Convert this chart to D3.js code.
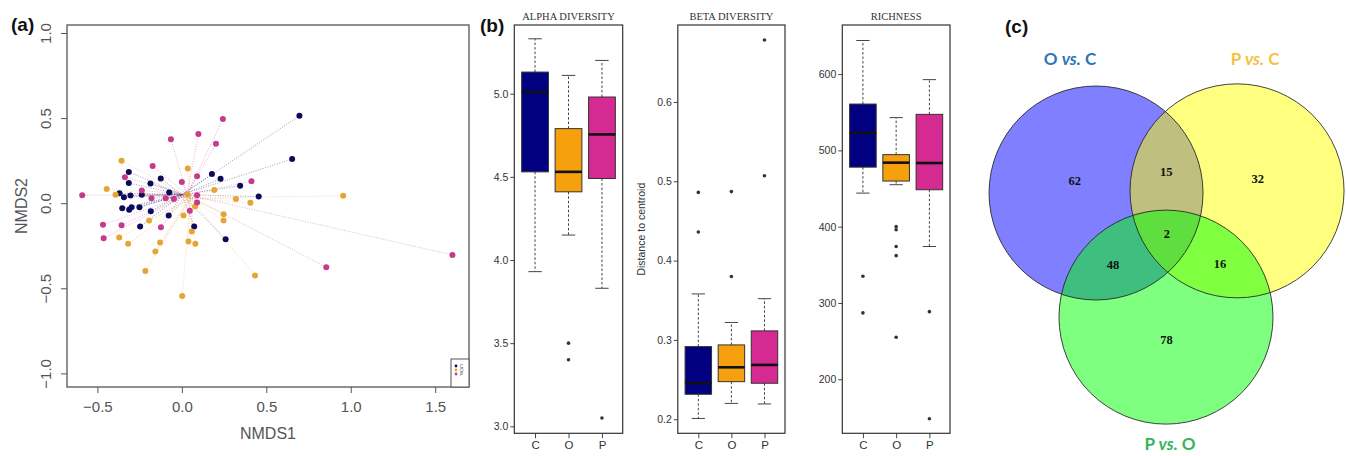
<!DOCTYPE html>
<html>
<head>
<meta charset="utf-8">
<script src="https://cdn.jsdelivr.net/npm/d3@7"></script>
<style>
  body { margin: 0; background: #fff; }
  text { font-family: "Liberation Sans", Arial, sans-serif; }
</style>
</head>
<body>
<script>
// groups shared by (a) and (b)
const groups = ["C", "O", "P"];
const dotColors = ["#0c0a5c", "#e6a532", "#c63a8c"];
const boxColors = ["#000080", "#f5a00c", "#d42a92"];

// (a) NMDS scores per group, [NMDS1, NMDS2]
const nmdsC = [[0.696,0.514],[0.653,0.259],[0.178,0.171],[0.229,0.143],[0.345,0.102],[0.455,0.039],
  [-0.125,0.145],[-0.186,0.116],[-0.075,0.063],[-0.314,0.184],[-0.314,0.118],[-0.369,0.059],
  [-0.343,0.035],[-0.304,0.045],[-0.237,0.049],[-0.353,-0.029],[-0.312,-0.039],[-0.298,-0.024],
  [-0.251,-0.024],[-0.184,-0.047],[-0.247,-0.137],[-0.078,-0.073],[0.073,-0.137],[0.259,-0.212]];
const nmdsO = [[0.955,0.043],[-0.357,0.249],[-0.445,0.084],[-0.392,0.049],[0.035,0.204],[0.192,0.078],
  [0.033,0.049],[0.320,0.025],[0.406,0.002],[0.247,-0.065],[0.247,-0.102],[0.078,-0.020],
  [0.010,-0.073],[0.059,-0.167],[0.039,-0.225],[0.080,-0.239],[-0.194,-0.102],[-0.371,-0.202],
  [-0.318,-0.239],[-0.129,-0.231],[-0.157,-0.284],[-0.216,-0.398],[0.433,-0.425],[0.002,-0.545]];
const nmdsP = [[1.602,-0.304],[0.855,-0.376],[0.243,0.494],[0.098,0.406],[0.202,0.349],[-0.065,0.376],
  [-0.173,0.218],[0.090,0.159],[0.000,0.125],[0.412,0.129],[-0.337,0.153],[-0.590,0.047],
  [-0.237,0.075],[-0.180,0.029],[-0.096,0.029],[-0.047,0.025],[0.090,0.047],[0.090,0.004],
  [0.047,-0.045],[-0.124,-0.141],[-0.357,-0.129],[-0.467,-0.127],[-0.463,-0.206]];
const centroids = [[0.00,0.05],[0.05,0.03],[0.03,0.05]];

// (b) boxplot stats: [lower whisker, Q1, median, Q3, upper whisker]
const alphaBox = [[3.93,4.53,5.01,5.13,5.33],[4.15,4.41,4.53,4.79,5.11],[3.83,4.49,4.755,4.98,5.20]];
const alphaOut = [[],[3.50,3.40],[3.05]];
const betaBox = [[0.201,0.2315,0.2454,0.2916,0.358],[0.220,0.2474,0.2655,0.2937,0.322],[0.2193,0.2454,0.2685,0.3114,0.352]];
const betaOut = [[0.486,0.436],[0.487,0.380],[0.678,0.507]];
const richBox = [[444,478,522.7,560.7,644],[455,459.8,483.9,494.4,542.9],[374,448.4,483.4,547.2,592.7]];
const richOut = [[335,287],[400,396,374,362,255],[288.6,148.2]];

// (c) venn
const vennNames = ["O vs. C", "P vs. C", "P vs. O"];
const vennTitleColors = ["#2e75b6", "#f7c043", "#34b45a"];
const vennFill = ["#0000ff", "#ffff00", "#00ff00"];
const vennCounts = [
  {sets: [0], n: 62}, {sets: [1], n: 32}, {sets: [2], n: 78},
  {sets: [0, 1], n: 15}, {sets: [0, 2], n: 48}, {sets: [1, 2], n: 16},
  {sets: [0, 1, 2], n: 2}
];

const svg = d3.select("body").append("svg")
  .attr("width", 1346)
  .attr("height", 456)
  .style("background", "#fff");

const panelLabel = (txt, x, y) => svg.append("text")
  .text(txt).attr("x", x).attr("y", y)
  .style("font-size", "19px").style("font-weight", "bold").attr("fill", "#111");

// ---------- (a) NMDS ----------
const ax = d3.scaleLinear().domain([-0.68, 1.70]).range([67, 469]);
const ay = d3.scaleLinear().domain([-1.08, 1.047]).range([387, 25]);
const gA = svg.append("g");

gA.append("g")
  .attr("transform", `translate(0,${ay.range()[0]})`)
  .call(d3.axisBottom(ax).tickValues([-0.5, 0, 0.5, 1, 1.5]).tickFormat(d3.format(".1f")).tickSize(6))
  .call(g => g.select(".domain").remove())
  .call(g => g.selectAll("line").attr("stroke", "#555"))
  .call(g => g.selectAll("text").attr("y", 14).style("font-size", "15px").attr("fill", "#555")
    .style("font-family", "'Liberation Sans', Arial"));

gA.append("g")
  .attr("transform", `translate(${ax.range()[0]},0)`)
  .call(d3.axisLeft(ay).tickValues([-1, -0.5, 0, 0.5, 1]).tickFormat(d3.format(".1f")).tickSize(6))
  .call(g => g.select(".domain").remove())
  .call(g => g.selectAll("line").attr("stroke", "#555"))
  .call(g => g.selectAll("text")
    .attr("x", 0).attr("y", -16).attr("dy", 0)
    .attr("transform", "rotate(-90)")
    .attr("text-anchor", "middle")
    .style("font-size", "15px").attr("fill", "#555")
    .style("font-family", "'Liberation Sans', Arial"));

gA.append("text").text("NMDS1")
  .attr("x", (ax.range()[0] + ax.range()[1]) / 2).attr("y", 439)
  .attr("text-anchor", "middle").style("font-size", "16px").attr("fill", "#555");
gA.append("text").text("NMDS2")
  .attr("transform", `translate(27,${(ay.range()[0] + ay.range()[1]) / 2}) rotate(-90)`)
  .attr("text-anchor", "middle").style("font-size", "16px").attr("fill", "#555");

const scores = [nmdsC, nmdsO, nmdsP];
scores.forEach((pts, gi) => {
  gA.append("g")
    .selectAll("line")
    .data(pts)
    .join("line")
    .attr("x1", d => ax(d[0])).attr("y1", d => ay(d[1]))
    .attr("x2", ax(centroids[gi][0])).attr("y2", ay(centroids[gi][1]))
    .attr("stroke", dotColors[gi])
    .attr("stroke-opacity", 0.4)
    .attr("stroke-width", 1)
    .attr("stroke-dasharray", "1,1.5");
});
scores.forEach((pts, gi) => {
  gA.append("g")
    .selectAll("circle")
    .data(pts)
    .join("circle")
    .attr("cx", d => ax(d[0])).attr("cy", d => ay(d[1]))
    .attr("r", 3)
    .attr("fill", dotColors[gi]);
});

gA.append("rect")
  .attr("x", ax.range()[0]).attr("y", ay.range()[1])
  .attr("width", ax.range()[1] - ax.range()[0])
  .attr("height", ay.range()[0] - ay.range()[1])
  .attr("fill", "none").attr("stroke", "#555").attr("stroke-width", 1.3);

// tiny legend, bottom right
const leg = gA.append("g").attr("transform", `translate(${ax.range()[1] - 18},${ay.range()[0] - 28})`);
leg.append("rect").attr("width", 18).attr("height", 28)
  .attr("fill", "#fff").attr("stroke", "#555").attr("stroke-width", 1);
groups.forEach((g, i) => {
  leg.append("circle").attr("cx", 5).attr("cy", 7 + i * 4).attr("r", 1.4).attr("fill", dotColors[i]);
  leg.append("text").text(g).attr("x", 9).attr("y", 8.8 + i * 4)
    .style("font-size", "4.5px").attr("fill", "#555");
});

panelLabel("(a)", 11, 31);

// ---------- (b) boxplots ----------
const drawBox = (cfg) => {
  const g = svg.append("g");
  const x = d3.scaleLinear().domain([0.38, 3.62]).range([cfg.left, cfg.right]);
  const y = d3.scaleLinear().domain(cfg.domain).range([433.3, 25]);

  g.append("g")
    .attr("transform", `translate(${cfg.left},0)`)
    .call(d3.axisLeft(y).tickValues(cfg.ticks).tickFormat(cfg.fmt).tickSize(4).tickPadding(2))
    .call(s => s.select(".domain").remove())
    .call(s => s.selectAll("line").attr("stroke", "#444"))
    .call(s => s.selectAll("text").style("font-size", "10.5px").attr("fill", "#333")
      .style("font-family", "'Liberation Sans', Arial"));

  g.append("g")
    .attr("transform", `translate(0,433.3)`)
    .call(d3.axisBottom(x).tickValues([1, 2, 3]).tickFormat(d => groups[d - 1]).tickSize(5).tickPadding(3))
    .call(s => s.select(".domain").remove())
    .call(s => s.selectAll("line").attr("stroke", "#444"))
    .call(s => s.selectAll("text").style("font-size", "11.5px").attr("fill", "#333")
      .style("font-family", "'Liberation Sans', Arial"));

  cfg.stats.forEach((st, i) => {
    const c = i + 1;
    const [lo, q1, med, q3, hi] = st;
    // whiskers
    [[q3, hi], [q1, lo]].forEach(([a, b]) => {
      g.append("line")
        .attr("x1", x(c)).attr("x2", x(c)).attr("y1", y(a)).attr("y2", y(b))
        .attr("stroke", "#444").attr("stroke-dasharray", "2.5,2").attr("stroke-width", 1);
      g.append("line")
        .attr("x1", x(c - 0.2)).attr("x2", x(c + 0.2)).attr("y1", y(b)).attr("y2", y(b))
        .attr("stroke", "#444").attr("stroke-width", 1);
    });
    g.append("rect")
      .attr("x", x(c - 0.4)).attr("width", x(c + 0.4) - x(c - 0.4))
      .attr("y", y(q3)).attr("height", y(q1) - y(q3))
      .attr("fill", boxColors[i]).attr("stroke", "#333").attr("stroke-width", 1);
    g.append("line")
      .attr("x1", x(c - 0.4)).attr("x2", x(c + 0.4)).attr("y1", y(med)).attr("y2", y(med))
      .attr("stroke", "#111").attr("stroke-width", 2.6);
    g.selectAll(null)
      .data(cfg.out[i])
      .join("circle")
      .attr("cx", x(c)).attr("cy", d => y(d)).attr("r", 1.8).attr("fill", "#333");
  });

  g.append("rect")
    .attr("x", cfg.left).attr("y", 25)
    .attr("width", cfg.right - cfg.left).attr("height", 433.3 - 25)
    .attr("fill", "none").attr("stroke", "#333").attr("stroke-width", 1.2);

  g.append("text").text(cfg.title)
    .attr("x", (cfg.left + cfg.right) / 2).attr("y", 20)
    .attr("text-anchor", "middle")
    .style("font-family", "'Liberation Serif', 'Times New Roman', serif")
    .style("font-size", "10.5px").attr("fill", "#333");

  if (cfg.ylabel) {
    g.append("text").text(cfg.ylabel)
      .attr("transform", `translate(${cfg.left - 33},${(25 + 433.3) / 2}) rotate(-90)`)
      .attr("text-anchor", "middle")
      .style("font-size", "10.5px").attr("fill", "#333");
  }
};

drawBox({left: 514.3, right: 622.7, domain: [2.958, 5.413], ticks: [3, 3.5, 4, 4.5, 5],
  fmt: d3.format(".1f"), stats: alphaBox, out: alphaOut, title: "ALPHA DIVERSITY"});
drawBox({left: 677.8, right: 785, domain: [0.1823, 0.697], ticks: [0.2, 0.3, 0.4, 0.5, 0.6],
  fmt: d3.format(".1f"), stats: betaBox, out: betaOut, title: "BETA DIVERSITY",
  ylabel: "Distance to centroid"});
drawBox({left: 842.3, right: 950, domain: [129.2, 664.3], ticks: [200, 300, 400, 500, 600],
  fmt: d3.format("d"), stats: richBox, out: richOut, title: "RICHNESS"});

panelLabel("(b)", 480, 32);

// ---------- (c) venn ----------
const vx = d3.scaleLinear().domain([0, 1]).range([1059, 1273]);   // unit layout -> px
const vy = d3.scaleLinear().domain([0, 1]).range([86, 300]);
const vr = (vx(1) - vx(0)) / 2;
const vennLayout = [[0.173, 0.5], [0.832, 0.49], [0.5, 1.08]];
const circles = vennLayout.map(([u, v]) => ({cx: vx(u), cy: vy(v)}));

const gC = svg.append("g");
gC.selectAll("circle.fill")
  .data(circles)
  .join("circle")
  .attr("cx", d => d.cx).attr("cy", d => d.cy).attr("r", vr)
  .attr("fill", (d, i) => vennFill[i]).attr("fill-opacity", 0.5);
gC.selectAll("circle.edge")
  .data(circles)
  .join("circle")
  .attr("cx", d => d.cx).attr("cy", d => d.cy).attr("r", vr)
  .attr("fill", "none").attr("stroke", "#222").attr("stroke-opacity", 0.85).attr("stroke-width", 1);

// place each count at the mean of its region (sampled on a grid);
// single-set labels are pulled a bit toward their own circle centre
const inside = (p, c) => (p[0] - c.cx) ** 2 + (p[1] - c.cy) ** 2 <= vr * vr;
const xs = d3.range(d3.min(circles, c => c.cx) - vr, d3.max(circles, c => c.cx) + vr, 2);
const ys = d3.range(d3.min(circles, c => c.cy) - vr, d3.max(circles, c => c.cy) + vr, 2);
const regionCenter = (sets) => {
  const pts = [];
  xs.forEach(px => ys.forEach(py => {
    const ok = circles.every((c, i) => inside([px, py], c) === sets.includes(i));
    if (ok) pts.push([px, py]);
  }));
  let p = [d3.mean(pts, q => q[0]), d3.mean(pts, q => q[1])];
  if (sets.length === 1) {
    const c = circles[sets[0]];
    p = [c.cx + 0.72 * (p[0] - c.cx), c.cy + 0.72 * (p[1] - c.cy)];
  }
  return p;
};

gC.selectAll("text.count")
  .data(vennCounts)
  .join("text")
  .each(function(d) {
    const [cx, cy] = regionCenter(d.sets);
    d3.select(this).attr("x", cx).attr("y", cy + 4);
  })
  .attr("text-anchor", "middle")
  .style("font-family", "'Liberation Serif', 'Times New Roman', serif")
  .style("font-weight", "bold").style("font-size", "12.5px").attr("fill", "#111")
  .text(d => d.n);

const titlePos = [[circles[0].cx - 26, 65], [circles[1].cx + 18, 65], [circles[2].cx + 4, 450]];
vennNames.forEach((name, i) => {
  const parts = name.split(" ");
  const t = gC.append("text")
    .attr("x", titlePos[i][0]).attr("y", titlePos[i][1])
    .attr("text-anchor", "middle")
    .style("font-family", "Lato, 'Open Sans', sans-serif")
    .style("font-weight", "bold").style("font-size", "17px")
    .attr("fill", vennTitleColors[i]);
  t.append("tspan").text(parts[0] + " ");
  t.append("tspan").text(parts[1]).style("font-style", "italic");
  t.append("tspan").text(" " + parts[2]);
});

panelLabel("(c)", 1005, 33);
</script>
</body>
</html>
